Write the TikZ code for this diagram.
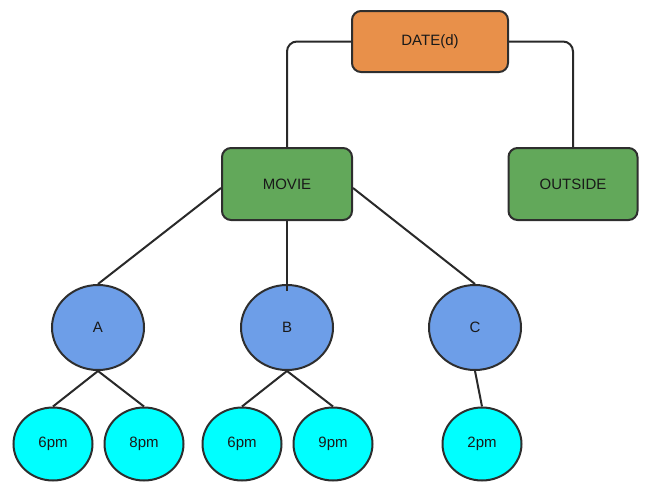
\documentclass[tikz,border=0pt]{standalone}
\usepackage{fontspec}
\setmainfont{Liberation Sans}
\usetikzlibrary{shapes.geometric,calc}
\definecolor{dateor}{HTML}{E8904A}
\definecolor{boxgreen}{HTML}{62A85A}
\definecolor{midblue}{HTML}{6D9EE8}
\definecolor{leafcyan}{HTML}{00FFFF}
\definecolor{edgegray}{HTML}{2E2E2E}
\begin{document}
\begin{tikzpicture}[x=1pt,y=-1pt,
  every node/.style={font=\fontsize{15}{17}\selectfont, text=black!90},
  rbox/.style={draw=edgegray, line width=2pt, rounded corners=9pt, inner sep=0pt},
  midcirc/.style={ellipse, draw=edgegray, line width=2pt, fill=midblue, minimum width=92pt, minimum height=85pt, inner sep=0pt},
  leafcirc/.style={ellipse, draw=edgegray, line width=2pt, fill=leafcyan, minimum width=79pt, minimum height=73pt, inner sep=0pt},
  link/.style={draw=edgegray!90!black, line width=2pt}]
\useasboundingbox (0,0) rectangle (650,482);
\coordinate (dl) at (287,41.5);
\coordinate (dr) at (573,41.5);
\node[rbox, fill=dateor, minimum width=156pt, minimum height=61pt] (date) at (430,41.5) {DATE(d)};
\node[rbox, fill=boxgreen, minimum width=130pt, minimum height=72pt] (movie) at (287,184) {MOVIE};
\node[rbox, fill=boxgreen, minimum width=129pt, minimum height=72pt] (outside) at (573,184) {OUTSIDE};
\node[midcirc] (A) at (98,327.5) {A};
\node[midcirc] (B) at (287,327.5) {B};
\node[midcirc] (C) at (475,327.5) {C};
\node[leafcirc] (a6) at (53,444) {6pm};
\node[leafcirc] (a8) at (144,444) {8pm};
\node[leafcirc] (b6) at (242,444) {6pm};
\node[leafcirc] (b9) at (333,444) {9pm};
\node[leafcirc] (c2) at (482,444) {2pm};
\draw[link, rounded corners=10pt] (date.west) -- (dl) -- (movie.north);
\draw[link, rounded corners=10pt] (date.east) -- (dr) -- (outside.north);
\draw[link] ($(movie.west)+(0,4)$) -- (A.north);
\draw[link] (movie.south) -- ($(B.north)+(0,7)$);
\draw[link] ($(movie.east)+(0,4)$) -- (C.north);
\draw[link] (A.south) -- (a6.north);
\draw[link] (A.south) -- (a8.north);
\draw[link] (B.south) -- (b6.north);
\draw[link] (B.south) -- (b9.north);
\draw[link] (C.south) -- (c2.north);
\end{tikzpicture}
\end{document}
